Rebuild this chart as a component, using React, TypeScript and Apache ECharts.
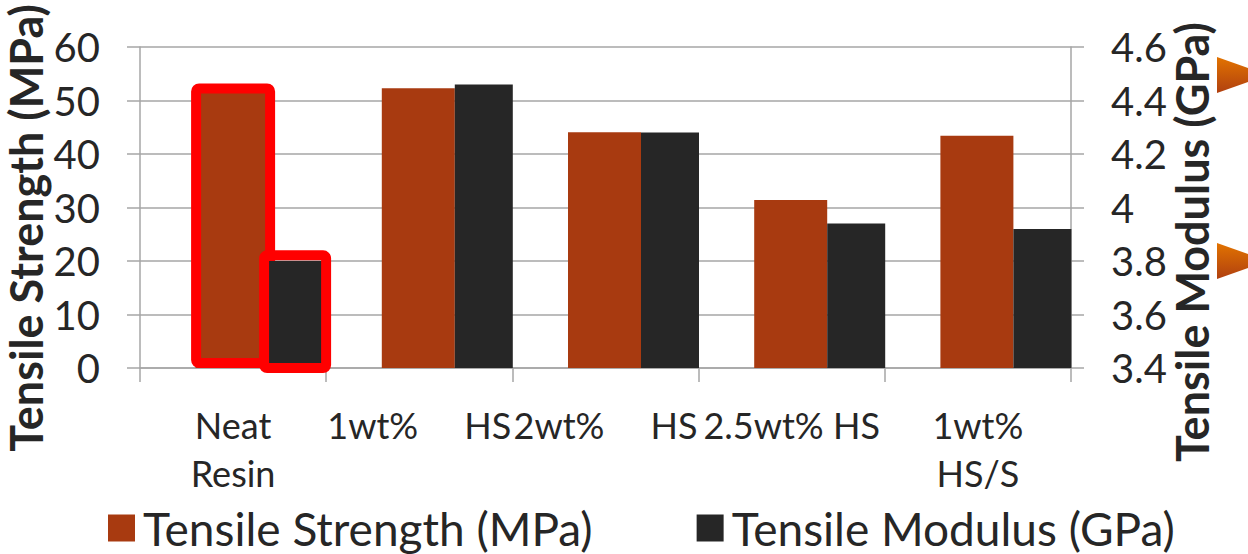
import React, { useEffect, useRef } from "react";
import * as echarts from "echarts";

// Sample groups along the category axis
const categories = [
  "Neat\nResin",
  "1wt%\u00A0\u00A0\u00A0\u00A0\u00A0HS",
  "2wt%\u00A0\u00A0\u00A0\u00A0\u00A0HS",
  "2.5wt% HS",
  "1wt%\nHS/S",
];

// Tensile strength in MPa (left axis)
const strengthValues = [51.5, 52.3, 44.05, 31.4, 43.4];
// Tensile modulus in GPa (right axis)
const modulusValues = [3.8, 4.46, 4.28, 3.94, 3.92];

// Red frames drawn around the neat resin bars (frame top, on each bar's own axis)
const frameStrength = [53.2, "-", "-", "-", "-"];
const frameModulus = [3.84, "-", "-", "-", "-"];

const strengthName = "Tensile Strength (MPa)";
const modulusName = "Tensile Modulus (GPa)";

const FONT = "Lato, 'Open Sans', sans-serif";
const TEXT = "#262626";
const GRID = "#A6A6A6";
const BROWN = "#A83A10";
const DARK = "#262626";
const RED = "#FF0000";

const arrowFill = () =>
  new echarts.graphic.LinearGradient(0, 0, 0, 1, [
    { offset: 0, color: "#E27300" },
    { offset: 1, color: "#B04010" },
  ]);

export default function App() {
  const ref = useRef<HTMLDivElement>(null);

  useEffect(() => {
    document.body.style.margin = "0";
    if (!ref.current) return;
    const chart = echarts.init(ref.current, undefined, { renderer: "svg" });

    const frameStyle = {
      color: "rgba(0,0,0,0)",
      borderColor: RED,
      borderWidth: 10,
      borderJoin: "round",
      borderRadius: 3,
    };

    chart.setOption({
      animation: false,
      backgroundColor: "#ffffff",
      textStyle: { fontFamily: FONT, color: TEXT },
      grid: [
        // axes, gridlines and labels
        { left: 140, right: 177, top: 47, bottom: 186 },
        // data bars, shifted toward the right of each category
        { left: 168, right: 149, top: 47, bottom: 186 },
        // frame around the neat resin modulus bar
        { left: 202, right: 115, top: 47, bottom: 186 },
      ],
      xAxis: [
        {
          type: "category",
          gridIndex: 0,
          data: categories,
          axisLine: { show: true, lineStyle: { color: GRID, width: 1.5 } },
          axisTick: { show: true, length: 14, lineStyle: { color: GRID, width: 1.5 } },
          axisLabel: {
            color: TEXT,
            fontFamily: FONT,
            fontSize: 36,
            lineHeight: 48,
            margin: 33,
            interval: 0,
          },
        },
        { type: "category", gridIndex: 1, data: categories, show: false },
        { type: "category", gridIndex: 0, data: categories, show: false },
        { type: "category", gridIndex: 2, data: categories, show: false },
      ],
      yAxis: [
        {
          type: "value",
          gridIndex: 0,
          min: 0,
          max: 60,
          interval: 10,
          axisLine: { show: true, lineStyle: { color: GRID, width: 1.5 } },
          axisTick: { show: true, length: 13, lineStyle: { color: GRID, width: 1.5 } },
          splitLine: { show: true, lineStyle: { color: GRID, width: 1.5 } },
          axisLabel: { color: TEXT, fontFamily: FONT, fontSize: 40, margin: 40 },
        },
        {
          type: "value",
          gridIndex: 0,
          position: "right",
          min: 3.4,
          max: 4.6,
          interval: 0.2,
          axisLine: { show: true, lineStyle: { color: GRID, width: 1.5 } },
          axisTick: { show: true, length: 13, lineStyle: { color: GRID, width: 1.5 } },
          splitLine: { show: false },
          axisLabel: {
            color: TEXT,
            fontFamily: FONT,
            fontSize: 40,
            margin: 40,
            formatter: (v: number) => String(+v.toFixed(1)),
          },
        },
        { type: "value", gridIndex: 1, min: 0, max: 60, show: false },
        { type: "value", gridIndex: 1, min: 3.4, max: 4.6, show: false },
        { type: "value", gridIndex: 2, min: 3.4, max: 4.6, show: false },
      ],
      legend: {
        left: 108,
        top: 505,
        padding: 0,
        itemWidth: 27,
        itemHeight: 27,
        itemGap: 104,
        icon: "rect",
        data: [strengthName, modulusName],
        textStyle: {
          color: TEXT,
          fontFamily: FONT,
          fontSize: 46,
          lineHeight: 45,
          padding: [0, 0, 0, 3],
        },
      },
      graphic: [
        {
          type: "text",
          x: 26,
          y: 228,
          rotation: Math.PI / 2,
          style: {
            text: strengthName,
            font: `bold 45px ${FONT}`,
            fill: TEXT,
            align: "center",
            verticalAlign: "middle",
          },
        },
        {
          type: "text",
          x: 1192,
          y: 242,
          rotation: Math.PI / 2,
          style: {
            text: modulusName,
            font: `bold 45px ${FONT}`,
            fill: TEXT,
            align: "center",
            verticalAlign: "middle",
          },
        },
        {
          type: "polygon",
          shape: { points: [[1217, 57], [1268, 75], [1217, 93]] },
          style: { fill: arrowFill() },
        },
        {
          type: "polygon",
          shape: { points: [[1217, 243], [1268, 261], [1217, 279]] },
          style: { fill: arrowFill() },
        },
      ],
      // drawn in order: strength bars, their frame, modulus bars, their frame
      series: [
        {
          name: strengthName,
          type: "bar",
          xAxisIndex: 1,
          yAxisIndex: 2,
          barWidth: 73,
          barGap: "0%",
          itemStyle: { color: BROWN },
          data: strengthValues,
        },
        {
          type: "bar",
          xAxisIndex: 2,
          yAxisIndex: 0,
          barWidth: 84,
          silent: true,
          itemStyle: frameStyle,
          data: frameStrength,
        },
        {
          name: modulusName,
          type: "bar",
          xAxisIndex: 1,
          yAxisIndex: 3,
          barWidth: 58,
          barGap: "0%",
          itemStyle: { color: DARK },
          data: modulusValues,
        },
        {
          type: "bar",
          xAxisIndex: 3,
          yAxisIndex: 4,
          barWidth: 72,
          silent: true,
          itemStyle: frameStyle,
          data: frameModulus,
        },
      ],
    });

    return () => chart.dispose();
  }, []);

  return <div ref={ref} style={{ width: 1248, height: 554 }} />;
}
